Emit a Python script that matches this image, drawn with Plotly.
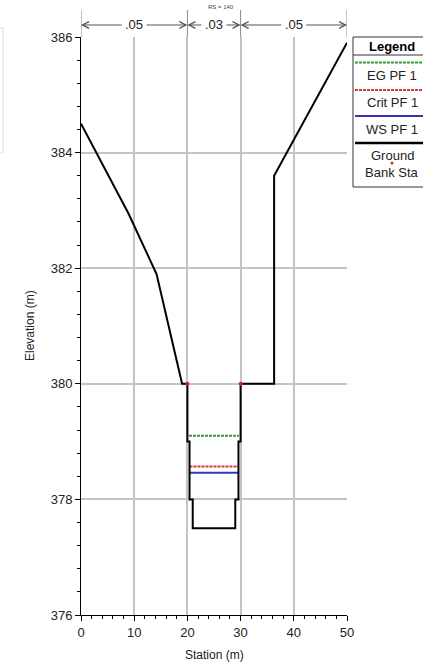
import plotly.graph_objects as go

# ---- data ----
ground_sta = [0, 8.9, 14.2, 19.0, 20.0, 20.0, 20.4, 20.4, 21.0, 21.0, 29.0, 29.0, 29.6, 29.6, 30.0, 30.0, 36.3, 36.3, 50.0]
ground_elev = [384.5, 382.95, 381.9, 380.0, 380.0, 379.0, 379.0, 378.0, 378.0, 377.5, 377.5, 378.0, 378.0, 379.0, 379.0, 380.0, 380.0, 383.6, 385.9]
bank_sta = [20.0, 30.0]
bank_elev = [380.0, 380.0]
eg_sta = [20.3, 29.7]
eg_elev = [379.1, 379.1]
crit_sta = [20.4, 29.6]
crit_elev = [378.57, 378.57]
ws_sta = [20.4, 29.6]
ws_elev = [378.46, 378.46]
n_bounds = [0, 20, 30, 50]
n_values = [".05", ".03", ".05"]
rs_label = "RS = 140"

FONT = "Liberation Sans, Arial, sans-serif"
L, R, T, B = 81, 76, 37, 51
W, H = 423, 666
PW, PH = W - L - R, H - T - B

def px(x):
    return (x - L) / PW

def py(y):
    return 1 - (y - T) / PH

def label(x, y, text, size=12, color="#222", **kw):
    d = dict(x=px(x), y=py(y), xref="paper", yref="paper", text=text, showarrow=False,
             xanchor="center", yanchor="middle", font=dict(family=FONT, size=size, color=color))
    d.update(kw)
    return d

fig = go.Figure()
fig.add_trace(go.Scatter(x=eg_sta, y=eg_elev, mode="lines",
                         line=dict(color="#3a9a3a", width=2, dash="3px,1px"), showlegend=False))
fig.add_trace(go.Scatter(x=crit_sta, y=crit_elev, mode="lines",
                         line=dict(color="#d83a3a", width=2, dash="3px,1px"), showlegend=False))
fig.add_trace(go.Scatter(x=ws_sta, y=ws_elev, mode="lines",
                         line=dict(color="#3535b5", width=2), showlegend=False))
fig.add_trace(go.Scatter(x=ground_sta, y=ground_elev, mode="lines",
                         line=dict(color="black", width=2), showlegend=False))
fig.add_trace(go.Scatter(x=bank_sta, y=bank_elev, mode="markers",
                         marker=dict(color="#e02020", size=4), showlegend=False))

shapes = []
annotations = []

# n-value boundary marks above plot
for b in n_bounds:
    shapes.append(dict(type="line", xref="x", yref="paper", x0=b, x1=b,
                       y0=1.0, y1=py(10), line=dict(color="#888", width=1)))
arrow_y = py(25)
for i, lab in enumerate(n_values):
    c = (n_bounds[i] + n_bounds[i + 1]) / 2
    for j, tgt in enumerate([n_bounds[i], n_bounds[i + 1]]):
        annotations.append(dict(
            x=tgt, y=arrow_y, xref="x", yref="paper", ax=c, ay=0,
            axref="x", ayref="pixel", text=lab, showarrow=True,
            arrowhead=5, arrowsize=1.3, arrowwidth=1, arrowcolor="#555",
            borderpad=3, font=dict(family=FONT, size=13,
                                   color="#222" if j == 0 else "rgba(0,0,0,0)")))
annotations.append(label(221, 7, rs_label, size=6, color="#444"))

# axis titles
annotations.append(label(30, 326, "Elevation (m)", textangle=-90))
annotations.append(label(214, 655, "Station (m)"))

# custom legend
lx0, lx1 = px(353), px(432)
shapes.append(dict(type="rect", xref="paper", yref="paper", x0=lx0, x1=lx1, y0=py(187), y1=py(37),
                   line=dict(color="#333", width=1), fillcolor="white"))
shapes.append(dict(type="line", xref="paper", yref="paper", x0=lx0, x1=lx1, y0=py(55), y1=py(55),
                   line=dict(color="#333", width=1)))
annotations.append(label(392, 46, "<b>Legend</b>", size=13, color="black"))
leg_items = [("EG PF 1", 62.5, 75, dict(color="#3a9a3a", width=2, dash="3px,1px")),
             ("Crit PF 1", 90, 103, dict(color="#d83a3a", width=2, dash="3px,1px")),
             ("WS PF 1", 116, 129, dict(color="#3535b5", width=2)),
             ("Ground", 143, 155, dict(color="black", width=2.5))]
for name, ly, ty, ln in leg_items:
    shapes.append(dict(type="line", xref="paper", yref="paper", x0=px(355), x1=lx1,
                       y0=py(ly), y1=py(ly), line=ln))
    annotations.append(label(392, ty, name, size=13))
shapes.append(dict(type="circle", xref="paper", yref="paper", x0=px(390.5), x1=px(393.5),
                   y0=py(164.5), y1=py(161.5), fillcolor="#e02020", line=dict(width=0)))
annotations.append(label(392, 172, "Bank Sta", size=13))

# faint box at left edge
shapes.append(dict(type="rect", xref="paper", yref="paper", x0=px(-10), x1=px(3),
                   y0=py(153), y1=py(28), line=dict(color="#ddd", width=1)))

fig.update_layout(
    width=W, height=H, margin=dict(l=L, r=R, t=T, b=B, autoexpand=False),
    paper_bgcolor="white", plot_bgcolor="white",
    font=dict(family=FONT, size=13, color="#222"),
    shapes=shapes, annotations=annotations, showlegend=False,
    xaxis=dict(range=[0, 50], dtick=10, tick0=0, showgrid=True, gridcolor="#c4c4c4", gridwidth=1.5,
               showline=True, linecolor="black", linewidth=1, ticks="outside", ticklen=5,
               tickcolor="black", zeroline=False, fixedrange=True,
               minor=dict(dtick=2, ticks="outside", ticklen=3, tickcolor="black", showgrid=False),
               tickfont=dict(size=13)),
    yaxis=dict(range=[376, 386], dtick=2, tick0=376, showgrid=True, gridcolor="#c4c4c4", gridwidth=1.5,
               showline=True, linecolor="black", linewidth=1, ticks="outside", ticklen=5,
               tickcolor="black", zeroline=False, fixedrange=True,
               minor=dict(dtick=0.4, ticks="outside", ticklen=3, tickcolor="black", showgrid=False),
               tickfont=dict(size=13)),
)

fig.write_html("out.html")
